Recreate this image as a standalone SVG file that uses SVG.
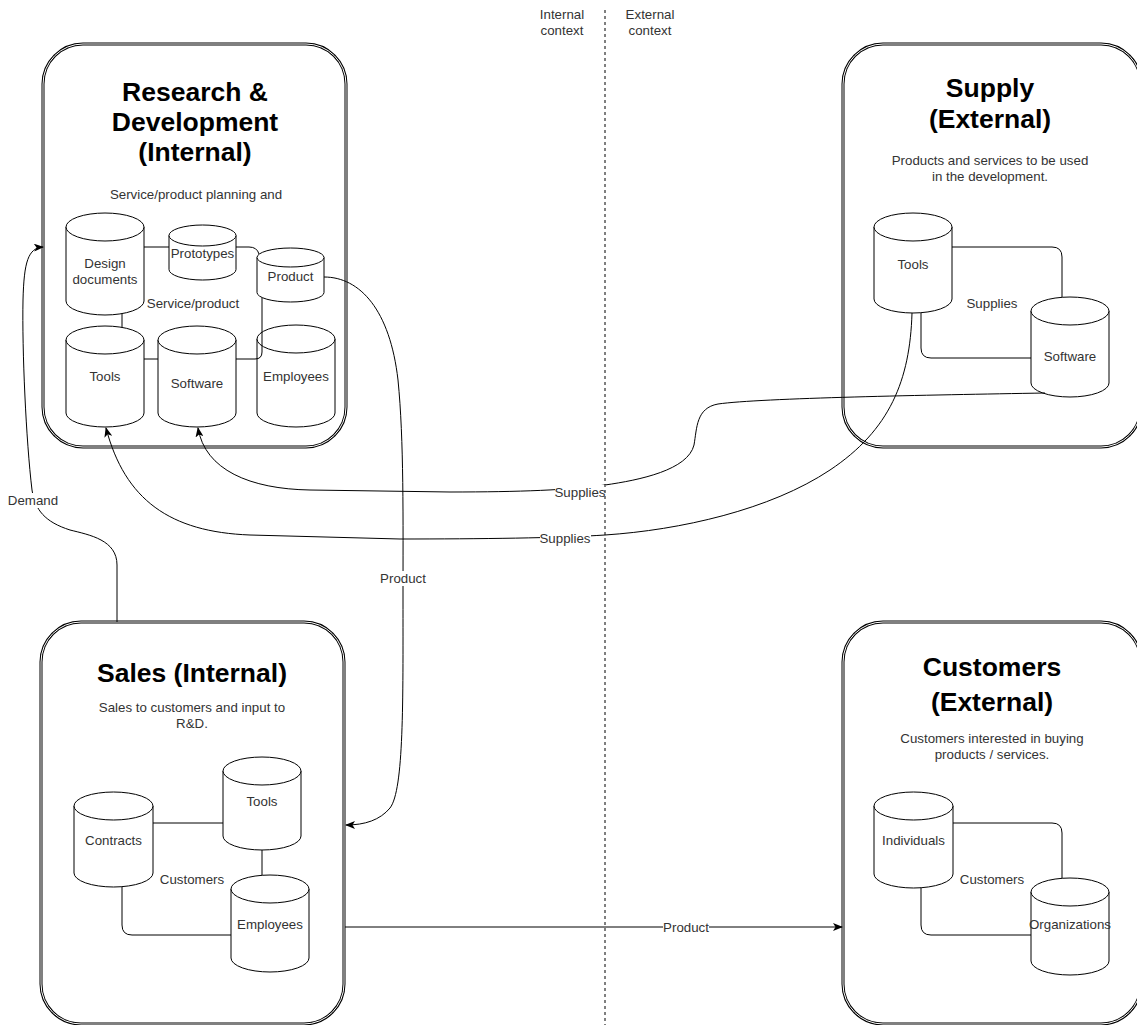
<svg xmlns="http://www.w3.org/2000/svg" width="1137" height="1025" viewBox="0 0 1137 1025">
  <defs>
    <style>
      .box-o { fill: #fff; stroke: #000; stroke-width: 3; }
      .box-i { fill: none; stroke: #fff; stroke-width: 1; }
      .cyl { fill: #fff; stroke: #000; stroke-width: 1; }
      .edge { fill: none; stroke: #000; stroke-width: 1; }
      .title { font-family: "Liberation Sans", Arial, sans-serif; font-weight: bold; font-size: 26.5px; text-anchor: middle; fill: #000; }
      .txt { font-family: "Liberation Sans", Arial, sans-serif; font-size: 13.3px; text-anchor: middle; fill: #333; }
      .lbl-bg { fill: #fff; }
      .divider { fill: none; stroke: #000; stroke-width: 1; stroke-dasharray: 3 3; }
    </style>
    <marker id="arrow" viewBox="0 0 10 8" refX="9" refY="4" markerWidth="10" markerHeight="8" markerUnits="userSpaceOnUse" orient="auto">
      <path d="M0,0 L10,4 L0,8 L2.5,4 Z" fill="#000"/>
    </marker>
  </defs>

  <!-- Research & Development -->
  <g id="rnd">
    <rect class="box-o" x="43" y="44" width="303" height="403" rx="40"/>
    <rect class="box-i" x="43" y="44" width="303" height="403" rx="40"/>
    <text class="title" x="195" y="101">Research &amp;</text>
    <text class="title" x="195" y="131">Development</text>
    <text class="title" x="195" y="161">(Internal)</text>
    <text class="txt" x="196" y="199">Service/product planning and</text>
    <text class="txt" x="193" y="308">Service/product</text>
    <g id="rnd-design">
      <path class="cyl" d="M66,227 A39,14 0 0 1 144,227 V301 A39,14 0 0 1 66,301 Z"/>
      <path class="cyl" d="M66,227 A39,14 0 0 0 144,227"/>
      <text class="txt" x="105" y="268">Design</text>
      <text class="txt" x="105" y="284">documents</text>
    </g>
    <g id="rnd-prototypes">
      <path class="cyl" d="M169,235.5 A33.5,10.5 0 0 1 236,235.5 V269.5 A33.5,10.5 0 0 1 169,269.5 Z"/>
      <path class="cyl" d="M169,235.5 A33.5,10.5 0 0 0 236,235.5"/>
      <text class="txt" x="202.5" y="258">Prototypes</text>
    </g>
    <g id="rnd-product">
      <path class="cyl" d="M257,257.5 A33.5,9.5 0 0 1 324,257.5 V292.5 A33.5,9.5 0 0 1 257,292.5 Z"/>
      <path class="cyl" d="M257,257.5 A33.5,9.5 0 0 0 324,257.5"/>
      <text class="txt" x="290.5" y="281">Product</text>
    </g>
    <g id="rnd-tools">
      <path class="cyl" d="M66,340 A39,14 0 0 1 144,340 V413 A39,14 0 0 1 66,413 Z"/>
      <path class="cyl" d="M66,340 A39,14 0 0 0 144,340"/>
      <text class="txt" x="105" y="381">Tools</text>
    </g>
    <g id="rnd-software">
      <path class="cyl" d="M158,340 A39,14 0 0 1 236,340 V413 A39,14 0 0 1 158,413 Z"/>
      <path class="cyl" d="M158,340 A39,14 0 0 0 236,340"/>
      <text class="txt" x="197" y="388">Software</text>
    </g>
    <g id="rnd-employees">
      <path class="cyl" d="M257,339 A39,14 0 0 1 335,339 V413 A39,14 0 0 1 257,413 Z"/>
      <path class="cyl" d="M257,339 A39,14 0 0 0 335,339"/>
      <text class="txt" x="296" y="381">Employees</text>
    </g>
  </g>

  <!-- Supply -->
  <g id="supply">
    <rect class="box-o" x="843" y="44" width="298" height="403" rx="40"/>
    <rect class="box-i" x="843" y="44" width="298" height="403" rx="40"/>
    <text class="title" x="990" y="97">Supply</text>
    <text class="title" x="990" y="128">(External)</text>
    <text class="txt" x="990" y="165">Products and services to be used</text>
    <text class="txt" x="990" y="181">in the development.</text>
    <text class="txt" x="992" y="308">Supplies</text>
    <g id="supply-tools">
      <path class="cyl" d="M874,227 A39,14 0 0 1 952,227 V299 A39,14 0 0 1 874,299 Z"/>
      <path class="cyl" d="M874,227 A39,14 0 0 0 952,227"/>
      <text class="txt" x="913" y="269">Tools</text>
    </g>
    <g id="supply-software">
      <path class="cyl" d="M1031,311 A39,14 0 0 1 1109,311 V383 A39,14 0 0 1 1031,383 Z"/>
      <path class="cyl" d="M1031,311 A39,14 0 0 0 1109,311"/>
      <text class="txt" x="1070" y="361">Software</text>
    </g>
  </g>

  <!-- Sales -->
  <g id="sales">
    <rect class="box-o" x="41" y="622" width="303" height="402" rx="40"/>
    <rect class="box-i" x="41" y="622" width="303" height="402" rx="40"/>
    <text class="title" x="192" y="682">Sales (Internal)</text>
    <text class="txt" x="192" y="712">Sales to customers and input to</text>
    <text class="txt" x="192" y="728">R&amp;D.</text>
    <text class="txt" x="192" y="884">Customers</text>
    <g id="sales-tools">
      <path class="cyl" d="M223,771 A39,14 0 0 1 301,771 V836 A39,14 0 0 1 223,836 Z"/>
      <path class="cyl" d="M223,771 A39,14 0 0 0 301,771"/>
      <text class="txt" x="262" y="806">Tools</text>
    </g>
    <g id="sales-contracts">
      <path class="cyl" d="M74,806 A39.5,14 0 0 1 153,806 V873 A39.5,14 0 0 1 74,873 Z"/>
      <path class="cyl" d="M74,806 A39.5,14 0 0 0 153,806"/>
      <text class="txt" x="113.5" y="845">Contracts</text>
    </g>
    <g id="sales-employees">
      <path class="cyl" d="M231,889 A39,14 0 0 1 309,889 V958 A39,14 0 0 1 231,958 Z"/>
      <path class="cyl" d="M231,889 A39,14 0 0 0 309,889"/>
      <text class="txt" x="270" y="929">Employees</text>
    </g>
  </g>

  <!-- Customers -->
  <g id="customers">
    <rect class="box-o" x="843" y="622" width="298" height="402" rx="40"/>
    <rect class="box-i" x="843" y="622" width="298" height="402" rx="40"/>
    <text class="title" x="992" y="676">Customers</text>
    <text class="title" x="992" y="711">(External)</text>
    <text class="txt" x="992" y="743">Customers interested in buying</text>
    <text class="txt" x="992" y="759">products / services.</text>
    <text class="txt" x="992" y="884">Customers</text>
    <g id="customers-individuals">
      <path class="cyl" d="M874,806 A39.5,14 0 0 1 953,806 V874 A39.5,14 0 0 1 874,874 Z"/>
      <path class="cyl" d="M874,806 A39.5,14 0 0 0 953,806"/>
      <text class="txt" x="913.5" y="845">Individuals</text>
    </g>
    <g id="customers-organizations">
      <path class="cyl" d="M1031,892 A39,14 0 0 1 1109,892 V961 A39,14 0 0 1 1031,961 Z"/>
      <path class="cyl" d="M1031,892 A39,14 0 0 0 1109,892"/>
      <text class="txt" x="1070" y="929">Organizations</text>
    </g>
  </g>

  <!-- Context labels -->
  <g id="context-labels">
    <text class="txt" x="562" y="19">Internal</text>
    <text class="txt" x="562" y="35">context</text>
    <text class="txt" x="650" y="19">External</text>
    <text class="txt" x="650" y="35">context</text>
  </g>

  <!-- Connectors -->
  <g id="connectors">
    <!-- inside R&D -->
    <path class="edge" d="M144,247 H169"/>
    <path class="edge" d="M236,247 H249 Q257,247 259,254"/>
    <path class="edge" d="M122,313.6 V327.4"/>
    <path class="edge" d="M144,359 H158"/>
    <path class="edge" d="M236,359 H255 Q262,359 262,352 V297.5"/>
    <!-- inside Supply -->
    <path class="edge" d="M952,247 H1052 Q1062,247 1062,257 V297.3"/>
    <path class="edge" d="M921,312.7 V348 Q921,358 931,358 H1031"/>
    <!-- inside Sales -->
    <path class="edge" d="M153,823 H223"/>
    <path class="edge" d="M262,850 V875.3"/>
    <path class="edge" d="M122,886.7 V925 Q122,935 132,935 H231"/>
    <!-- inside Customers -->
    <path class="edge" d="M953,823 H1052 Q1062,823 1062,833 V878.3"/>
    <path class="edge" d="M921,887.7 V925 Q921,935 931,935 H1031"/>

    <!-- Demand: Sales to R&D -->
    <path class="edge" marker-end="url(#arrow)" d="M117,622 V565 C117,540 90,535 70,530 C45,522 35,510 32,490 C26,440 22,350 23,300 C24,262 28,248 43,247"/>
    <!-- Product: R&D to Sales -->
    <path class="edge" marker-end="url(#arrow)" d="M324,277 C360,277 390,310 398,380 C404,440 403,520 403,600 C403,700 404,790 390,808 C380,820 365,825 346,825"/>
    <!-- Supplies: Supply software to R&D software -->
    <path class="edge" marker-end="url(#arrow)" d="M1045,393 C930,395 760,398 718,404 C696,408 697,428 694,445 C688,470 640,480 605,485 C570,490 520,492 450,492 L310,490 C250,489 205,470 198,428"/>
    <!-- Supplies: Supply tools to R&D tools -->
    <path class="edge" marker-end="url(#arrow)" d="M912,313 C910,380 890,430 830,470 C770,510 680,530 605,535 C560,538 480,539 400,539 L250,535 C170,532 125,500 106,428"/>
    <!-- Product: Sales to Customers -->
    <path class="edge" marker-end="url(#arrow)" d="M345,927 H842"/>

    <!-- connector labels -->
    <rect class="lbl-bg" x="8" y="493" width="50" height="15"/>
    <text class="txt" x="33" y="505">Demand</text>
    <rect class="lbl-bg" x="380" y="571" width="46" height="15"/>
    <text class="txt" x="403" y="583">Product</text>
    <rect class="lbl-bg" x="555" y="485" width="51" height="15"/>
    <text class="txt" x="580" y="497">Supplies</text>
    <rect class="lbl-bg" x="540" y="531" width="51" height="15"/>
    <text class="txt" x="565" y="543">Supplies</text>
    <rect class="lbl-bg" x="663" y="920" width="46" height="15"/>
    <text class="txt" x="686" y="932">Product</text>
  </g>

  <!-- Internal / external divider -->
  <path class="divider" d="M605,10 V1025"/>
</svg>
